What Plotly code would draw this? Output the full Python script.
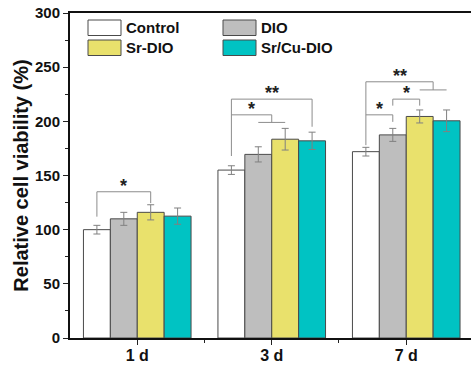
import plotly.graph_objects as go

# ---------------- data ----------------
days = ["1 d", "3 d", "7 d"]
series_names = ["Control", "DIO", "Sr-DIO", "Sr/Cu-DIO"]
control = [100, 155, 172]
dio = [110, 169.5, 187.5]
sr_dio = [116, 183.5, 204.5]
srcu_dio = [112.5, 182, 200.5]
control_err = [4, 4, 4]
dio_err = [6, 7, 6]
sr_dio_err = [7, 10, 6]
srcu_dio_err = [7.5, 8, 10]
y_ticks = [0, 50, 100, 150, 200, 250, 300]

values = [control, dio, sr_dio, srcu_dio]
errors = [control_err, dio_err, sr_dio_err, srcu_dio_err]
fills = ["#ffffff", "#bebebe", "#e9e16c", "#00c3c3"]

# significance brackets: (day index, left x-offset, right x-offset, top, left drop, right drop, label, sub-bar half width)
offsets = [-0.3, -0.1, 0.1, 0.3]
brackets = [
    (0, offsets[0], offsets[2], 135, 112, 124.5, "*", 0),
    (1, offsets[0], offsets[3], 220.5, 168, 195, "**", 0),
    (1, offsets[0], 0.0, 206, None, 199, "*", 0.1),
    (2, offsets[0], 0.2, 236.5, 178, 229, "**", 0.1),
    (2, offsets[1], offsets[2], 220.5, 214.5, 214.5, "*", 0),
    (2, offsets[0], offsets[1], 206, None, 199.5, "*", 0),
]

W, H = 471, 367
L, R, T, B = 70, 0, 13, 29
font = "Arial, Liberation Sans, sans-serif"

fig = go.Figure()
x_idx = list(range(len(days)))
for name, v, e, c in zip(series_names, values, errors, fills):
    fig.add_trace(go.Bar(
        x=x_idx, y=v, name=name, marker=dict(color=c, line=dict(color="#4a4a4a", width=1)),
        error_y=dict(type="data", array=e, color="#808080", thickness=1, width=3.5),
        showlegend=False,
    ))

ann = []
for d, xl, xr, top, ldrop, rdrop, lab, sub in brackets:
    xs = [d + xl, d + xl, d + xr, d + xr]
    ys = [ldrop if ldrop is not None else top, top, top, rdrop]
    if sub:
        xs += [None, d + xr - sub, d + xr + sub]
        ys += [None, rdrop, rdrop]
    fig.add_trace(go.Scatter(x=xs, y=ys, mode="lines", line=dict(color="#8c8c8c", width=1),
                             showlegend=False, hoverinfo="skip"))
    ann.append(dict(x=d + (xl + xr) / 2, y=top, xref="x", yref="y", text="<b>%s</b>" % lab,
                    showarrow=False, yanchor="bottom", yshift=-6,
                    font=dict(family=font, size=18, color="#222")))

# manual legend (two columns)
pw, ph = W - L - R, H - T - B
def px(xp):
    return (xp - L) / pw
def py(yp):
    return (H - B - yp) / ph
shapes = []
leg_pos = [(88, 20), (223, 20), (88, 40), (223, 40)]
for (lx, ly), name, c in zip(leg_pos, series_names, fills):
    shapes.append(dict(type="rect", xref="paper", yref="paper", x0=px(lx), x1=px(lx + 33),
                       y0=py(ly + 15.5), y1=py(ly), fillcolor=c, line=dict(color="#4a4a4a", width=1)))
    ann.append(dict(x=px(lx + 36), y=py(ly + 8), xref="paper", yref="paper", text="<b>%s</b>" % name,
                    showarrow=False, xanchor="left", yanchor="middle",
                    font=dict(family=font, size=15, color="#111")))

fig.update_layout(
    width=W, height=H, margin=dict(l=L, r=R, t=T, b=B),
    paper_bgcolor="white", plot_bgcolor="white",
    barmode="group", bargap=0.2, bargroupgap=0,
    shapes=shapes, annotations=ann,
    xaxis=dict(range=[-0.5, 2.4815], tickvals=x_idx, ticktext=["<b>%s</b>" % d for d in days],
               ticks="outside", ticklen=5, tickwidth=1, tickcolor="#222", ticklabelstandoff=-3,
               minor=dict(tickvals=[0.5, 1.5], ticks="outside", ticklen=3, tickcolor="#222"),
               showline=True, linecolor="#111", linewidth=1.5, mirror=True, showgrid=False, zeroline=False,
               tickfont=dict(family=font, size=16, color="#111")),
    yaxis=dict(range=[0, 300], tickvals=y_ticks, ticktext=["<b>%d</b>" % t for t in y_ticks],
               ticks="outside", ticklen=5, tickwidth=1, tickcolor="#222",
               minor=dict(dtick=25, ticks="outside", ticklen=3, tickcolor="#222"),
               showline=True, linecolor="#111", linewidth=2, showgrid=False, zeroline=False,
               tickfont=dict(family=font, size=15, color="#111"),
               title=dict(text="<b>Relative cell viability (%)</b>", standoff=1,
                          font=dict(family=font, size=20, color="#111"))),
)
fig.write_html("out.html", config={"displayModeBar": False},
               post_script="document.body.style.margin='0';document.body.style.overflow='hidden';")
